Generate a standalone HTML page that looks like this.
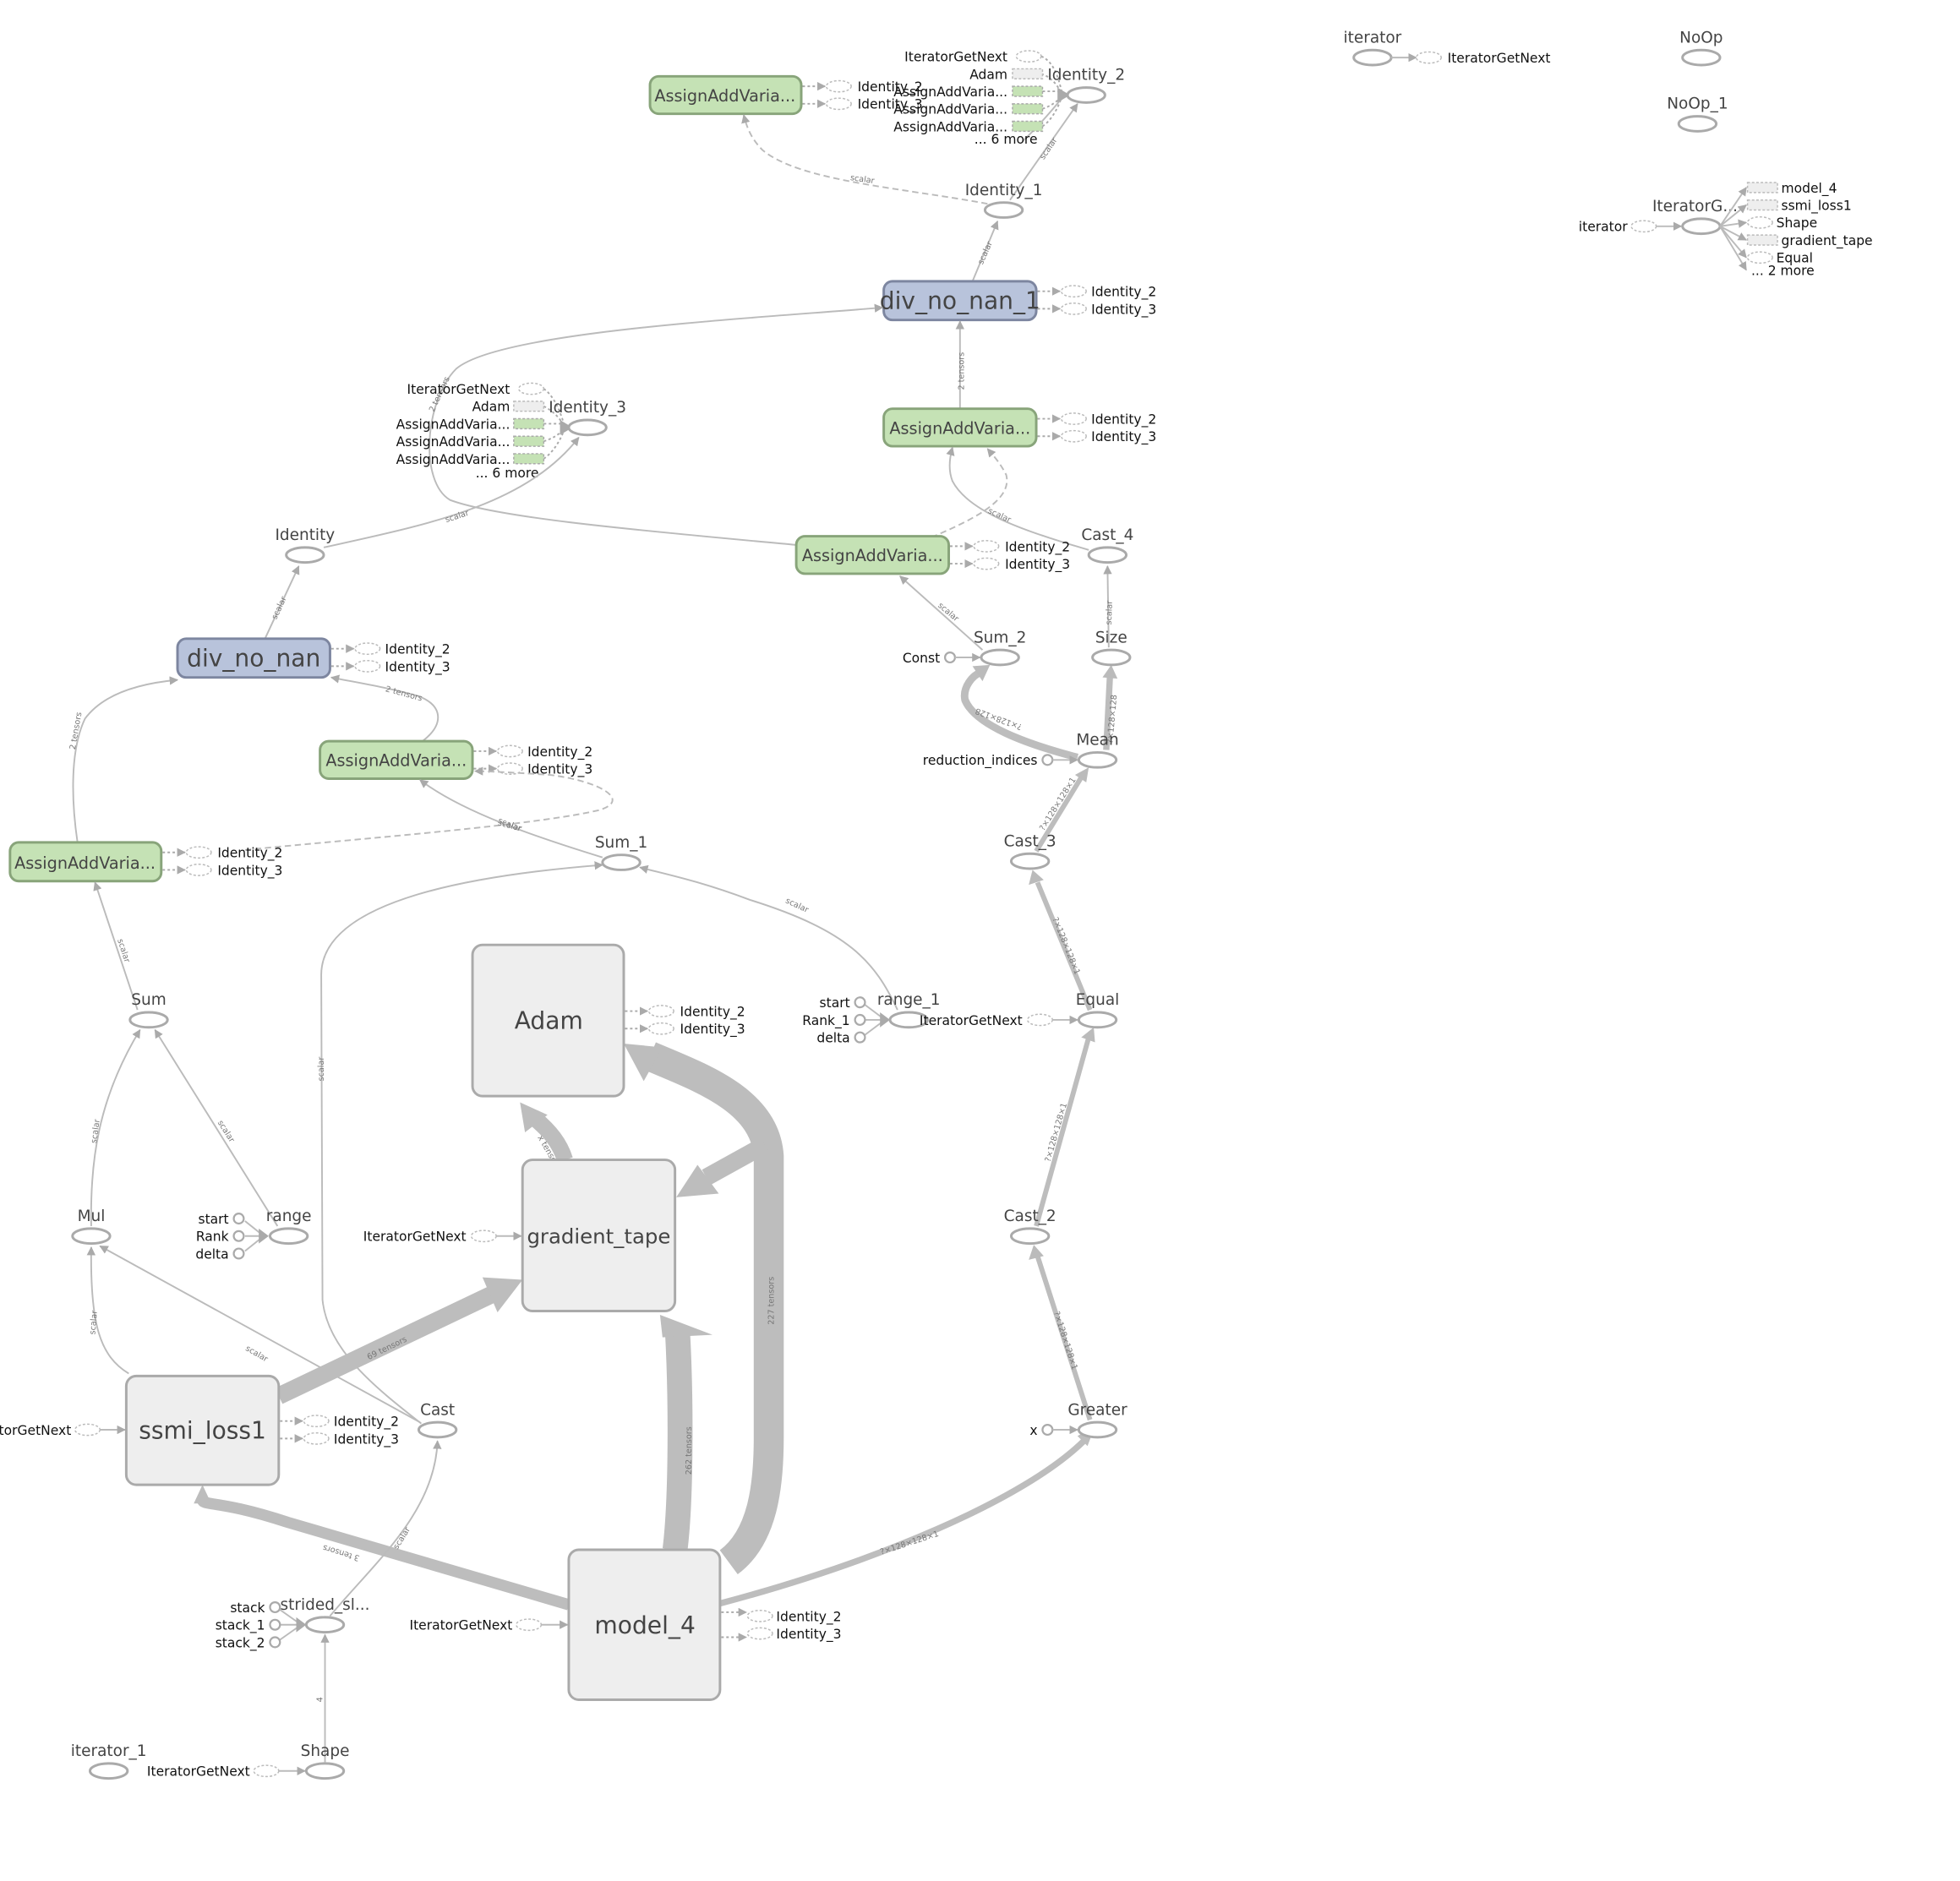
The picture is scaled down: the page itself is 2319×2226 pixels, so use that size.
<!DOCTYPE html>
<html><head><meta charset="utf-8"><style>
html,body{margin:0;padding:0;background:#fff;}
svg{display:block;}
text{font-family:"DejaVu Sans","Liberation Sans",sans-serif;}
.nl{font-size:12.5px;fill:#444;text-anchor:middle;}
.al{font-size:10.5px;fill:#111;}
.el{font-size:6.5px;fill:#777;}
.big{font-size:19px;fill:#444;text-anchor:middle;}
.e{fill:none;stroke:#bbb;stroke-width:1.3;}
.d{fill:none;stroke:#bbb;stroke-width:1.3;stroke-dasharray:5,3;}
.n{fill:#fff;stroke:#aaa;stroke-width:2;}
.sd{fill:#fff;stroke:#bbb;stroke-width:1;stroke-dasharray:2,1.5;}
.sr{fill:#eee;stroke:#bbb;stroke-width:1;stroke-dasharray:2,1.5;}
.sg{fill:#c5e2b5;stroke:#aaa;stroke-width:1;stroke-dasharray:2,1.5;}
.sc{fill:#fff;stroke:#aaa;stroke-width:1.5;}
.dot{fill:none;stroke:#aaa;stroke-width:1.3;stroke-dasharray:2,2;}
.box{fill:#eee;stroke:#aaa;stroke-width:2;}
.grn{fill:#c5e2b5;stroke:#88a47a;stroke-width:2;}
.blu{fill:#b8c3db;stroke:#7d86a0;stroke-width:2;}
.thk{fill:none;stroke:#bdbdbd;}
</style></head><body>
<svg width="2319" height="2226" viewBox="0 0 1568 1505" xmlns="http://www.w3.org/2000/svg">
<defs>
<marker id="a" viewBox="0 0 10 10" refX="9" refY="5" markerWidth="7" markerHeight="7" orient="auto" markerUnits="userSpaceOnUse"><path d="M0,0L10,5L0,10z" fill="#aaa"/></marker>
</defs>

<rect class="grn" x="520" y="61" width="121" height="30" rx="7"/>
<text class="nl" x="580" y="81" style="font-size:13px">AssignAddVaria...</text>
<g><path class="dot" d="M642,69H660" marker-end="url(#a)"/><path class="dot" d="M642,83H660" marker-end="url(#a)"/>
<ellipse class="sd" cx="671" cy="69" rx="10" ry="4.5"/><ellipse class="sd" cx="671" cy="83" rx="10" ry="4.5"/>
<text class="al" x="686" y="73">Identity_2</text><text class="al" x="686" y="87">Identity_3</text></g>

<path class="dot" d="M833,45 C845,50 848,68 850,76"/><path class="dot" d="M833,59 C843,62 848,72 850,76"/>
<path class="dot" d="M834,73H850"/><path class="dot" d="M834,87 C843,84 848,79 850,76"/><path class="dot" d="M834,101 C843,95 848,82 850,76"/>
<path class="e" d="M818,113 C832,100 845,84 850,78"/>
<path d="M846,70 L856,76 L846,82z" fill="#aaa"/>
<ellipse class="sd" cx="823" cy="45" rx="10" ry="4.5"/>
<rect class="sr" x="810" y="55" width="24" height="8"/>
<rect class="sg" x="810" y="69" width="24" height="8"/><rect class="sg" x="810" y="83" width="24" height="8"/><rect class="sg" x="810" y="97" width="24" height="8"/>
<g class="al" text-anchor="end"><text x="806" y="49">IteratorGetNext</text><text x="806" y="63">Adam</text><text x="806" y="77">AssignAddVaria...</text><text x="806" y="91">AssignAddVaria...</text><text x="806" y="105">AssignAddVaria...</text><text x="830" y="115">... 6 more</text></g>
<ellipse class="n" cx="869" cy="76" rx="15" ry="6"/><text class="nl" x="869" y="64">Identity_2</text>

<path class="e" d="M808,160 L862,83" marker-end="url(#a)"/>
<text class="el" transform="translate(835,128) rotate(-56)">scalar</text>
<path class="d" d="M790,163 C720,150 640,145 610,120 C600,110 597,100 595,92" marker-end="url(#a)"/>
<text class="el" transform="translate(680,144) rotate(8)">scalar</text>
<ellipse class="n" cx="803" cy="168" rx="15" ry="6"/><text class="nl" x="803" y="156">Identity_1</text>

<path class="e" d="M778,225 L798,177" marker-end="url(#a)"/>
<text class="el" transform="translate(786,212) rotate(-66)">scalar</text>
<rect class="blu" x="707" y="225" width="122" height="31" rx="7"/>
<text class="big" x="768" y="247">div_no_nan_1</text>
<path class="dot" d="M830,233H848" marker-end="url(#a)"/><path class="dot" d="M830,247H848" marker-end="url(#a)"/>
<ellipse class="sd" cx="859" cy="233" rx="10" ry="4.5"/><ellipse class="sd" cx="859" cy="247" rx="10" ry="4.5"/>
<text class="al" x="873" y="237">Identity_2</text><text class="al" x="873" y="251">Identity_3</text>

<path class="e" d="M768,327 L768,257" marker-end="url(#a)"/>
<text class="el" transform="translate(771,312) rotate(-90)">2 tensors</text>
<rect class="grn" x="707" y="327" width="122" height="30" rx="7"/>
<text class="nl" x="768" y="347" style="font-size:13px">AssignAddVaria...</text>
<path class="dot" d="M830,335H848" marker-end="url(#a)"/><path class="dot" d="M830,349H848" marker-end="url(#a)"/>
<ellipse class="sd" cx="859" cy="335" rx="10" ry="4.5"/><ellipse class="sd" cx="859" cy="349" rx="10" ry="4.5"/>
<text class="al" x="873" y="339">Identity_2</text><text class="al" x="873" y="353">Identity_3</text>

<path class="e" d="M637,436 C520,425 400,415 360,400 C335,385 340,320 365,295 C400,265 600,255 706,246" marker-end="url(#a)"/>
<text class="el" transform="translate(347,330) rotate(-65)">2 tensors</text>

<path class="dot" d="M435,311 C445,318 450,335 452,342"/><path class="dot" d="M435,325 C445,330 450,338 452,342"/>
<path class="dot" d="M435,339H452"/><path class="dot" d="M435,353 C445,350 450,345 452,342"/><path class="dot" d="M435,367 C445,360 450,348 452,342"/>
<path d="M448,336 L458,342 L448,348z" fill="#aaa"/>
<ellipse class="sd" cx="425" cy="311" rx="10" ry="4.5"/>
<rect class="sr" x="411" y="321" width="24" height="8"/>
<rect class="sg" x="411" y="335" width="24" height="8"/><rect class="sg" x="411" y="349" width="24" height="8"/><rect class="sg" x="411" y="363" width="24" height="8"/>
<g class="al" text-anchor="end"><text x="408" y="315">IteratorGetNext</text><text x="408" y="329">Adam</text><text x="408" y="343">AssignAddVaria...</text><text x="408" y="357">AssignAddVaria...</text><text x="408" y="371">AssignAddVaria...</text><text x="431" y="382">... 6 more</text></g>
<ellipse class="n" cx="470" cy="342" rx="15" ry="6"/><text class="nl" x="470" y="330">Identity_3</text>

<path class="e" d="M259,438 C340,420 420,405 463,350" marker-end="url(#a)"/>
<text class="el" transform="translate(357,418) rotate(-18)">scalar</text>
<ellipse class="n" cx="244" cy="444" rx="15" ry="6"/><text class="nl" x="244" y="432">Identity</text>

<path class="e" d="M212,511 L239,453" marker-end="url(#a)"/>
<text class="el" transform="translate(221,496) rotate(-65)">scalar</text>
<rect class="blu" x="142" y="511" width="122" height="31" rx="7"/>
<text class="big" x="203" y="533">div_no_nan</text>
<path class="dot" d="M265,519H283" marker-end="url(#a)"/><path class="dot" d="M265,533H283" marker-end="url(#a)"/>
<ellipse class="sd" cx="294" cy="519" rx="10" ry="4.5"/><ellipse class="sd" cx="294" cy="533" rx="10" ry="4.5"/>
<text class="al" x="308" y="523">Identity_2</text><text class="al" x="308" y="537">Identity_3</text>

<path class="e" d="M338,593 C355,580 355,565 335,557 C310,550 285,546 265,542" marker-end="url(#a)"/>
<text class="el" transform="translate(308,553) rotate(15)">2 tensors</text>
<rect class="grn" x="256" y="593" width="122" height="30" rx="7"/>
<text class="nl" x="317" y="613" style="font-size:13px">AssignAddVaria...</text>
<path class="dot" d="M379,601H397" marker-end="url(#a)"/><path class="dot" d="M379,615H397" marker-end="url(#a)"/>
<ellipse class="sd" cx="408" cy="601" rx="10" ry="4.5"/><ellipse class="sd" cx="408" cy="615" rx="10" ry="4.5"/>
<text class="al" x="422" y="605">Identity_2</text><text class="al" x="422" y="619">Identity_3</text>

<path class="e" d="M62,674 C57,640 56,600 68,575 C85,552 120,546 142,544" marker-end="url(#a)"/>
<text class="el" transform="translate(60,600) rotate(-80)">2 tensors</text>
<path class="d" d="M196,680 C300,670 430,660 480,648 C505,640 480,625 440,620 C410,618 390,617 380,617" marker-end="url(#a)"/>
<text class="el" transform="translate(398,660) rotate(15)">scalar</text>
<rect class="grn" x="8" y="674" width="121" height="31" rx="7"/>
<text class="nl" x="68" y="695" style="font-size:13px">AssignAddVaria...</text>
<path class="dot" d="M130,682H148" marker-end="url(#a)"/><path class="dot" d="M130,696H148" marker-end="url(#a)"/>
<ellipse class="sd" cx="159" cy="682" rx="10" ry="4.5"/><ellipse class="sd" cx="159" cy="696" rx="10" ry="4.5"/>
<text class="al" x="174" y="686">Identity_2</text><text class="al" x="174" y="700">Identity_3</text>

<path class="e" d="M482,686 C430,670 370,650 336,624" marker-end="url(#a)"/>
<text class="el" transform="translate(398,658) rotate(22)">scalar</text>
<ellipse class="n" cx="497" cy="690" rx="15" ry="6"/><text class="nl" x="497" y="678">Sum_1</text>

<path class="e" d="M110,808 L76,706" marker-end="url(#a)"/>
<text class="el" transform="translate(94,752) rotate(72)">scalar</text>
<ellipse class="n" cx="119" cy="816" rx="15" ry="6"/><text class="nl" x="119" y="804">Sum</text>

<path class="e" d="M73,981 C72,930 78,880 112,824" marker-end="url(#a)"/>
<text class="el" transform="translate(77,915) rotate(-82)">scalar</text>
<ellipse class="n" cx="73" cy="989" rx="15" ry="6"/><text class="nl" x="73" y="977">Mul</text>

<path class="e" d="M222,981 L124,824" marker-end="url(#a)"/>
<text class="el" transform="translate(174,898) rotate(58)">scalar</text>
<path class="e" d="M196,977 L211,989 M196,989H211 M196,1001 L211,989"/>
<path d="M207,983 L215,989 L207,995z" fill="#aaa"/>
<circle class="sc" cx="191" cy="975" r="4"/><circle class="sc" cx="191" cy="989" r="4"/><circle class="sc" cx="191" cy="1003" r="4"/>
<g class="al" text-anchor="end"><text x="183" y="979">start</text><text x="183" y="993">Rank</text><text x="183" y="1007">delta</text></g>
<ellipse class="n" cx="231" cy="989" rx="15" ry="6"/><text class="nl" x="231" y="977">range</text>

<path class="e" d="M336,1138 L80,997" marker-end="url(#a)"/>
<text class="el" transform="translate(196,1080) rotate(30)">scalar</text>
<path class="e" d="M337,1139 C300,1110 262,1080 258,1040 L257,780 C257,720 380,700 482,692" marker-end="url(#a)"/>
<text class="el" transform="translate(259,865) rotate(-90)">scalar</text>
<ellipse class="n" cx="350" cy="1144" rx="15" ry="6"/><text class="nl" x="350" y="1132">Cast</text>

<path class="thk" stroke-width="9" d="M455,1284 L230,1218 C175,1200 162,1205 162,1200"/>
<path d="M155,1203 L162,1188 L169,1203z" fill="#bdbdbd"/>
<text class="el" transform="translate(288,1245) rotate(197)">3 tensors</text>
<path class="thk" stroke-width="14" d="M223,1117 L395,1035"/>
<path d="M386,1022 L418,1024 L398,1050z" fill="#bdbdbd"/>
<text class="el" transform="translate(295,1088) rotate(-26)">69 tensors</text>
<path class="thk" stroke-width="20" d="M540,1240 C545,1200 545,1120 542,1065"/>
<path d="M528,1052 L570,1068 L530,1070z" fill="#bdbdbd"/>
<text class="el" transform="translate(553,1180) rotate(-90)">262 tensors</text>
<path class="thk" stroke-width="24" d="M583,1250 C610,1230 615,1190 615,1150 L615,925 C612,880 560,862 520,845"/>
<path d="M499,835 L530,838 L515,865z" fill="#bdbdbd"/>
<path class="thk" stroke-width="14" d="M612,916 L565,942"/>
<path d="M541,958 L558,932 L575,955z" fill="#bdbdbd"/>
<text class="el" transform="translate(619,1060) rotate(-90)">227 tensors</text>
<path class="thk" stroke-width="13" d="M452,928 C448,915 440,905 428,895"/>
<path d="M416,882 L438,892 L420,906z" fill="#bdbdbd"/>
<text class="el" transform="translate(430,910) rotate(60)">x tensors</text>
<path class="thk" stroke-width="5" d="M576,1283 C700,1250 820,1200 868,1152"/>
<path d="M862,1149 L876,1141 L870,1157z" fill="#bdbdbd"/>
<text class="el" transform="translate(705,1244) rotate(-18)">?×128×128×1</text>

<rect class="box" x="378" y="756" width="121" height="121" rx="8"/>
<text class="big" x="439" y="823">Adam</text>
<path class="dot" d="M500,809H518" marker-end="url(#a)"/><path class="dot" d="M500,823H518" marker-end="url(#a)"/>
<ellipse class="sd" cx="529" cy="809" rx="10" ry="4.5"/><ellipse class="sd" cx="529" cy="823" rx="10" ry="4.5"/>
<text class="al" x="544" y="813">Identity_2</text><text class="al" x="544" y="827">Identity_3</text>

<rect class="box" x="418" y="928" width="122" height="121" rx="8"/>
<text class="big" x="479" y="995" style="font-size:16.5px">gradient_tape</text>
<ellipse class="sd" cx="387" cy="989" rx="10" ry="4.5"/><path class="e" d="M397,989H417" marker-end="url(#a)"/>
<text class="al" x="373" y="993" text-anchor="end">IteratorGetNext</text>

<path class="e" d="M103,1099 C80,1085 72,1060 73,998" marker-end="url(#a)"/>
<text class="el" transform="translate(76,1068) rotate(-85)">scalar</text>
<rect class="box" x="101" y="1101" width="122" height="87" rx="8"/>
<text class="big" x="162" y="1151">ssmi_loss1</text>
<ellipse class="sd" cx="70" cy="1144" rx="10" ry="4.5"/><path class="e" d="M80,1144H100" marker-end="url(#a)"/>
<text class="al" x="57" y="1148" text-anchor="end">IteratorGetNext</text>
<path class="dot" d="M224,1137H242" marker-end="url(#a)"/><path class="dot" d="M224,1151H242" marker-end="url(#a)"/>
<ellipse class="sd" cx="253" cy="1137" rx="10" ry="4.5"/><ellipse class="sd" cx="253" cy="1151" rx="10" ry="4.5"/>
<text class="al" x="267" y="1141">Identity_2</text><text class="al" x="267" y="1155">Identity_3</text>

<path class="e" d="M264,1293 C300,1250 348,1210 350,1153" marker-end="url(#a)"/>
<text class="el" transform="translate(318,1240) rotate(-58)">scalar</text>
<path class="e" d="M224,1288 L241,1300 M224,1300H241 M224,1312 L241,1300"/>
<path d="M237,1294 L245,1300 L237,1306z" fill="#aaa"/>
<circle class="sc" cx="220" cy="1286" r="4"/><circle class="sc" cx="220" cy="1300" r="4"/><circle class="sc" cx="220" cy="1314" r="4"/>
<g class="al" text-anchor="end"><text x="212" y="1290">stack</text><text x="212" y="1304">stack_1</text><text x="212" y="1318">stack_2</text></g>
<ellipse class="n" cx="260" cy="1300" rx="15" ry="6"/><text class="nl" x="260" y="1288">strided_sl...</text>

<path class="e" d="M260,1410 L260,1308" marker-end="url(#a)"/>
<text class="el" transform="translate(258,1362) rotate(-90)">4</text>
<ellipse class="sd" cx="213" cy="1417" rx="10" ry="4.5"/><path class="e" d="M223,1417H244" marker-end="url(#a)"/>
<text class="al" x="200" y="1421" text-anchor="end">IteratorGetNext</text>
<ellipse class="n" cx="260" cy="1417" rx="15" ry="6"/><text class="nl" x="260" y="1405">Shape</text>
<ellipse class="n" cx="87" cy="1417" rx="15" ry="6"/><text class="nl" x="87" y="1405">iterator_1</text>

<rect class="box" x="455" y="1240" width="121" height="120" rx="8"/>
<text class="big" x="516" y="1307">model_4</text>
<ellipse class="sd" cx="423" cy="1300" rx="10" ry="4.5"/><path class="e" d="M433,1300H454" marker-end="url(#a)"/>
<text class="al" x="410" y="1304" text-anchor="end">IteratorGetNext</text>
<path class="dot" d="M577,1290H597" marker-end="url(#a)"/><path class="dot" d="M577,1310H597" marker-end="url(#a)"/>
<ellipse class="sd" cx="608" cy="1293" rx="10" ry="4.5"/><ellipse class="sd" cx="608" cy="1307" rx="10" ry="4.5"/>
<text class="al" x="621" y="1297">Identity_2</text><text class="al" x="621" y="1311">Identity_3</text>

<path class="e" d="M718,808 C700,770 680,745 600,720 C560,705 535,700 512,694" marker-end="url(#a)"/>
<text class="el" transform="translate(628,722) rotate(25)">scalar</text>
<path class="e" d="M692,804 L708,816 M692,816H708 M692,828 L708,816"/>
<path d="M704,810 L712,816 L704,822z" fill="#aaa"/>
<circle class="sc" cx="688" cy="802" r="4"/><circle class="sc" cx="688" cy="816" r="4"/><circle class="sc" cx="688" cy="830" r="4"/>
<g class="al" text-anchor="end"><text x="680" y="806">start</text><text x="680" y="820">Rank_1</text><text x="680" y="834">delta</text></g>
<ellipse class="n" cx="727" cy="816" rx="15" ry="6"/><text class="nl" x="727" y="804">range_1</text>

<path class="thk" stroke-width="4" d="M872,1136 L830,1005"/><path d="M823,1008 L827,996 L835,1005z" fill="#bbb"/>
<text class="el" transform="translate(843,1050) rotate(72)">?×128×128×1</text>
<path class="thk" stroke-width="4" d="M829,981 L871,830"/><path d="M865,830 L875,822 L876,834z" fill="#bbb"/>
<text class="el" transform="translate(840,930) rotate(-74)">?×128×128×1</text>
<path class="thk" stroke-width="4" d="M872,808 L830,706"/><path d="M823,708 L826,696 L835,704z" fill="#bbb"/>
<text class="el" transform="translate(842,735) rotate(68)">?×128×128×1</text>
<path class="thk" stroke-width="4" d="M829,681 L865,622"/><path d="M860,620 L871,614 L869,626z" fill="#bbb"/>
<text class="el" transform="translate(835,665) rotate(-58)">?×128×128×1</text>
<path class="thk" stroke-width="6" d="M862,606 C820,595 780,580 772,560 C770,550 778,540 785,538"/>
<path d="M778,533 L792,532 L786,545z" fill="#bbb"/>
<text class="el" transform="translate(818,580) rotate(200)">?×128×128</text>
<path class="thk" stroke-width="5" d="M885,600 L888,540"/><path d="M882,542 L889,532 L894,543z" fill="#bbb"/>
<text class="el" transform="translate(890,595) rotate(-85)">?×128×128</text>

<ellipse class="n" cx="878" cy="1144" rx="15" ry="6"/><text class="nl" x="878" y="1132">Greater</text>
<circle class="sc" cx="838" cy="1144" r="4"/><path class="e" d="M842,1144H862" marker-end="url(#a)"/><text class="al" x="830" y="1148" text-anchor="end">x</text>
<ellipse class="n" cx="824" cy="989" rx="15" ry="6"/><text class="nl" x="824" y="977">Cast_2</text>
<ellipse class="n" cx="878" cy="816" rx="15" ry="6"/><text class="nl" x="878" y="804">Equal</text>
<ellipse class="sd" cx="832" cy="816" rx="10" ry="4.5"/><path class="e" d="M842,816H862" marker-end="url(#a)"/>
<text class="al" x="818" y="820" text-anchor="end">IteratorGetNext</text>
<ellipse class="n" cx="824" cy="689" rx="15" ry="6"/><text class="nl" x="824" y="677">Cast_3</text>
<ellipse class="n" cx="878" cy="608" rx="15" ry="6"/><text class="nl" x="878" y="596">Mean</text>
<circle class="sc" cx="838" cy="608" r="4"/><path class="e" d="M842,608H862" marker-end="url(#a)"/><text class="al" x="830" y="612" text-anchor="end">reduction_indices</text>
<ellipse class="n" cx="800" cy="526" rx="15" ry="6"/><text class="nl" x="800" y="514">Sum_2</text>
<circle class="sc" cx="760" cy="526" r="4"/><path class="e" d="M764,526H784" marker-end="url(#a)"/><text class="al" x="752" y="530" text-anchor="end">Const</text>
<ellipse class="n" cx="889" cy="526" rx="15" ry="6"/><text class="nl" x="889" y="514">Size</text>
<path class="e" d="M887,518 L886,453" marker-end="url(#a)"/>
<text class="el" transform="translate(889,500) rotate(-88)">scalar</text>
<ellipse class="n" cx="886" cy="444" rx="15" ry="6"/><text class="nl" x="886" y="432">Cast_4</text>
<path class="e" d="M786,520 L720,461" marker-end="url(#a)"/>
<text class="el" transform="translate(750,485) rotate(40)">scalar</text>
<path class="e" d="M871,440 C820,425 775,410 762,385 C758,375 760,365 762,358" marker-end="url(#a)"/>
<path class="d" d="M745,430 C780,415 810,400 805,380 C800,370 795,365 790,359" marker-end="url(#a)"/>
<text class="el" transform="translate(790,410) rotate(25)">scalar</text>

<rect class="grn" x="637" y="429" width="122" height="30" rx="7"/>
<text class="nl" x="698" y="449" style="font-size:13px">AssignAddVaria...</text>
<path class="dot" d="M760,437H778" marker-end="url(#a)"/><path class="dot" d="M760,451H778" marker-end="url(#a)"/>
<ellipse class="sd" cx="789" cy="437" rx="10" ry="4.5"/><ellipse class="sd" cx="789" cy="451" rx="10" ry="4.5"/>
<text class="al" x="804" y="441">Identity_2</text><text class="al" x="804" y="455">Identity_3</text>

<ellipse class="n" cx="1098" cy="46" rx="15" ry="6"/><text class="nl" x="1098" y="34">iterator</text>
<path class="e" d="M1113,46H1133" marker-end="url(#a)"/><ellipse class="sd" cx="1143" cy="46" rx="10" ry="4.5"/>
<text class="al" x="1158" y="50">IteratorGetNext</text>
<ellipse class="n" cx="1361" cy="46" rx="15" ry="6"/><text class="nl" x="1361" y="34">NoOp</text>
<ellipse class="n" cx="1358" cy="99" rx="15" ry="6"/><text class="nl" x="1358" y="87">NoOp_1</text>
<ellipse class="n" cx="1361" cy="181" rx="15" ry="6"/><text class="nl" x="1356" y="169">IteratorG...</text>
<ellipse class="sd" cx="1315" cy="181" rx="10" ry="4.5"/><path class="e" d="M1325,181H1345" marker-end="url(#a)"/>
<text class="al" x="1302" y="185" text-anchor="end">iterator</text>
<path class="e" d="M1376,181 L1397,150" marker-end="url(#a)"/>
<path class="e" d="M1376,181 L1397,164" marker-end="url(#a)"/>
<path class="e" d="M1376,181 L1397,178" marker-end="url(#a)"/>
<path class="e" d="M1376,181 L1397,192" marker-end="url(#a)"/>
<path class="e" d="M1376,181 L1397,206" marker-end="url(#a)"/>
<path class="e" d="M1376,181 L1397,216" marker-end="url(#a)"/>
<rect class="sr" x="1398" y="146" width="24" height="8"/>
<rect class="sr" x="1398" y="160" width="24" height="8"/>
<ellipse class="sd" cx="1408" cy="178" rx="10" ry="4.5"/>
<rect class="sr" x="1398" y="188" width="24" height="8"/>
<ellipse class="sd" cx="1408" cy="206" rx="10" ry="4.5"/>
<g class="al"><text x="1425" y="154">model_4</text><text x="1425" y="168">ssmi_loss1</text><text x="1421" y="182">Shape</text><text x="1425" y="196">gradient_tape</text><text x="1421" y="210">Equal</text><text x="1401" y="220">... 2 more</text></g>
</svg>
</body></html>
